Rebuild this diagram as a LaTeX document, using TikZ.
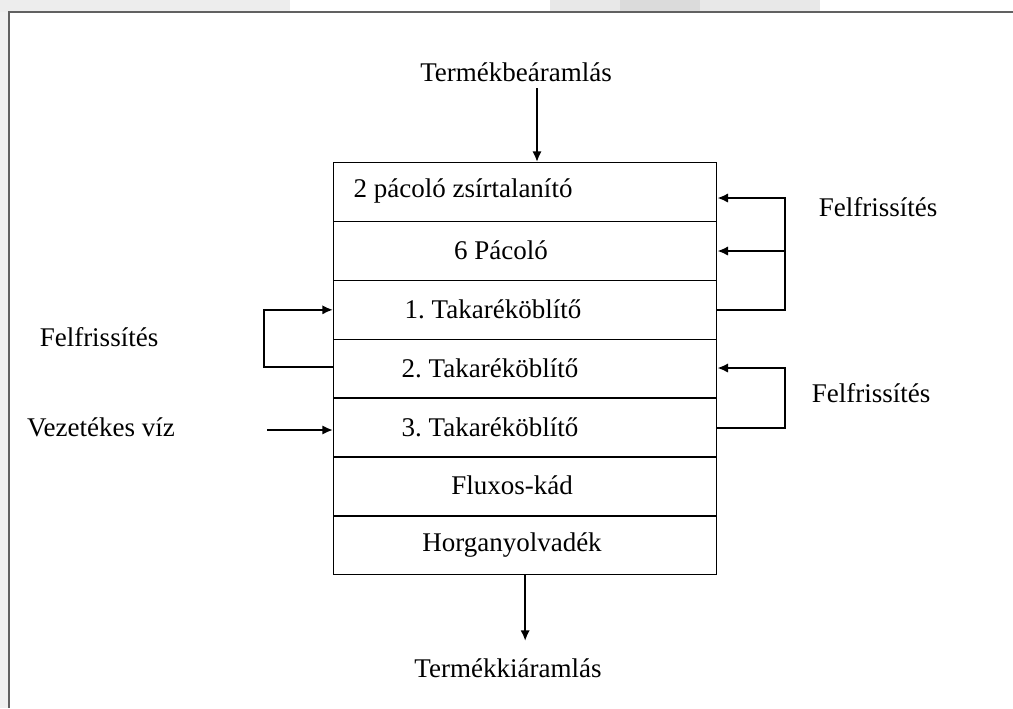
\documentclass[tikz,border=0pt]{standalone}
\usepackage{fontspec}
\setmainfont{Liberation Serif}
\usetikzlibrary{arrows.meta,calc}
\frenchspacing

\begin{document}
\begin{tikzpicture}[
  x=0.75pt, y=-0.75pt,
  every node/.style={font=\fontsize{20.25}{24}\selectfont, inner sep=0pt},
  tank/.style={draw=black, line width=1pt, minimum width=383*0.75pt,
               minimum height=58.86*0.75pt, anchor=north west},
  flow/.style={draw=black, line width=1.5pt,
               -{Latex[length=8pt,width=7pt]}},
  frameline/.style={draw=black!62, line width=1pt}
]
\useasboundingbox (0,0) rectangle (1013,708);

% page background and frame
\fill[white] (0,0) rectangle (1013,708);
\fill[black!7] (0,0) rectangle (290,12);
\fill[black!9] (550,0) rectangle (820,12);
\fill[black!14] (620,0) rectangle (700,12);
\fill[black!6] (0,12) rectangle (9,708);
\draw[frameline] (9,708) -- (9,12) -- (1013,12);

% stacked tanks of the line
\foreach \i in {1,...,7}{
  \node[tank] (r\i) at (333,{162+(\i-1)*58.86}) {};
}
\node (t1) at (463,{162+0.5*58.86}) {2 pácoló zsírtalanító};
\node (t2) at (501,{162+1.5*58.86}) {6 Pácoló};
\node (t3) at (493,{162+2.5*58.86}) {1. Takaréköblítő};
\node (t4) at (490,{162+3.5*58.86}) {2. Takaréköblítő};
\node (t5) at (490,{162+4.5*58.86}) {3. Takaréköblítő};
\node (t6) at (512,{162+5.5*58.86}) {Fluxos-kád};
\node (t7) at (512,{162+6.5*58.86}) {Horganyolvadék};

% product in / out
\node (in) at (516,72) {Termékbeáramlás};
\coordinate (inA) at (537,88);
\draw[flow] (inA) -- (inA |- r1.north);
\coordinate (outA) at (r7.south |- 0,641);
\draw[flow] (r7.south) -- (outA);
\node (out) at (508,668) {Termékkiáramlás};

% right refresh loop: 1st rinse -> pickling tanks
\coordinate (ra) at (785,198);
\coordinate (rb) at (785,251);
\draw[flow] (r3.east) -| (ra) -- (r1.east |- ra);
\draw[flow] (rb) -- (r2.east |- rb);
\node (f1) at (878,207) {Felfrissítés};

% right refresh loop: 3rd rinse -> 2nd rinse
\coordinate (rc) at (785,368);
\draw[flow] (r5.east) -| (rc) -- (r4.east |- rc);
\node (f2) at (871,393) {Felfrissítés};

% left refresh loop: 2nd rinse -> 1st rinse
\coordinate (la) at (264,367);
\draw[flow] (r4.west |- la) -- (la) |- (r3.west);
\node (f3) at (99,337) {Felfrissítés};

% tap water into 3rd rinse
\coordinate (wa) at (267,430);
\draw[flow] (wa) -- (r5.west |- wa);
\node (vz) at (101,427) {Vezetékes víz};
\end{tikzpicture}
\end{document}
